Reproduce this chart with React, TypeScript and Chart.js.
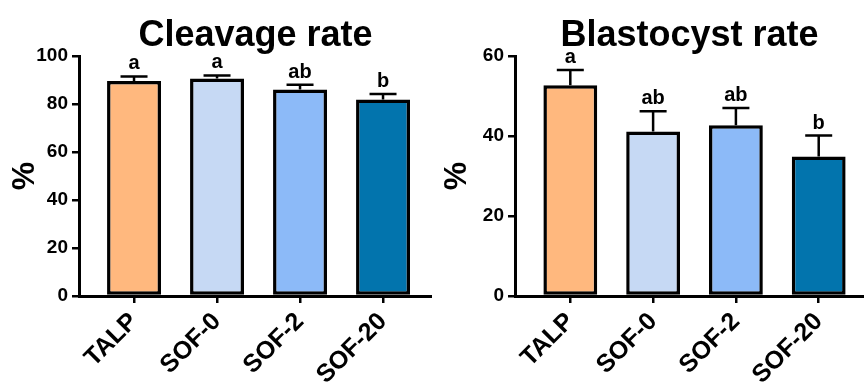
import React, { useEffect, useRef } from "react";
import { Chart, registerables } from "chart.js";

Chart.register(...registerables);

const FONT = "'Liberation Sans', Arial, Helvetica, sans-serif";

const categories = ["TALP", "SOF-0", "SOF-2", "SOF-20"];
const barColors = ["#FFB87E", "#C6D9F4", "#8CBAF8", "#0274AD"];

const cleavageMean = [89.6, 90.6, 86.0, 81.9];
const cleavageSem = [1.9, 1.3, 2.0, 2.3];
const cleavageLetters = ["a", "a", "ab", "b"];
const cleavageTicks = [0, 20, 40, 60, 80, 100];

const blastMean = [52.7, 41.1, 42.7, 34.9];
const blastSem = [3.8, 5.1, 4.3, 5.2];
const blastLetters = ["a", "ab", "ab", "b"];
const blastTicks = [0, 20, 40, 60];

const errLetterPlugin = {
  id: "errLetters",
  afterDatasetsDraw(chart: any, _args: any, opts: any) {
    const { ctx } = chart;
    const x = chart.scales.x;
    const y = chart.scales.y;
    const sem: number[] = opts.sem;
    const letters: string[] = opts.letters;
    const data = chart.data.datasets[0].data as { x: number; y: number }[];
    ctx.save();
    data.forEach((d, i) => {
      const px = x.getPixelForValue(d.x);
      const base = y.getPixelForValue(d.y);
      const top = y.getPixelForValue(d.y + sem[i]);
      ctx.strokeStyle = "#000";
      ctx.lineWidth = 2.5;
      ctx.beginPath();
      ctx.moveTo(px, base);
      ctx.lineTo(px, top);
      ctx.moveTo(px - 13.5, top);
      ctx.lineTo(px + 13.5, top);
      ctx.stroke();
      ctx.fillStyle = "#000";
      ctx.font = `bold 20px ${FONT}`;
      ctx.textAlign = "center";
      ctx.textBaseline = "alphabetic";
      ctx.fillText(letters[i], px, top - 7);
    });
    ctx.restore();
  },
};

type PanelProps = {
  title: string;
  mean: number[];
  sem: number[];
  letters: string[];
  yTicks: number[];
  yWidth: number;
  xMin: number;
  xMax: number;
};

function Panel(props: PanelProps) {
  const ref = useRef<HTMLCanvasElement>(null);
  useEffect(() => {
    if (!ref.current) return;
    const { title, mean, sem, letters, yTicks, yWidth, xMin, xMax } = props;
    const chart = new Chart(ref.current, {
      type: "bar",
      data: {
        datasets: [
          {
            data: mean.map((v, i) => ({ x: i, y: v })) as any,
            backgroundColor: barColors,
            borderColor: "#000",
            borderWidth: 3.5,
            borderSkipped: false,
            categoryPercentage: 1,
            barPercentage: 0.65,
          },
        ],
      },
      options: {
        animation: false,
        responsive: false,
        layout: { padding: 0 },
        plugins: {
          legend: { display: false },
          tooltip: { enabled: false },
          title: {
            display: true,
            text: title,
            fullSize: false,
            color: "#000",
            font: { size: 36, weight: "bold", family: FONT, lineHeight: 1.1 },
            padding: { top: 16, bottom: 0.4 },
          },
          errLetters: { sem, letters },
        } as any,
        scales: {
          x: {
            type: "linear",
            offset: false,
            min: xMin,
            max: xMax,
            afterBuildTicks: (s: any) => {
              s.ticks = categories.map((_, i) => ({ value: i }));
            },
            afterFit: (s: any) => {
              s.height = 96;
            },
            ticks: {
              autoSkip: false,
              minRotation: 45,
              maxRotation: 45,
              padding: 4,
              color: "#000",
              font: { size: 25, weight: "bold", family: FONT },
              callback: (v: any) => categories[Math.round(Number(v))],
            },
            grid: {
              offset: false,
              drawOnChartArea: false,
              drawTicks: true,
              tickLength: 7,
              color: "#000",
              lineWidth: 2.5,
            },
            border: { display: true, color: "#000", width: 3 },
          },
          y: {
            min: 0,
            max: yTicks[yTicks.length - 1],
            afterBuildTicks: (s: any) => {
              s.ticks = yTicks.map((v) => ({ value: v }));
            },
            afterFit: (s: any) => {
              s.width = yWidth;
            },
            ticks: {
              padding: 4,
              color: "#000",
              font: { size: 19, weight: "bold", family: FONT },
            },
            grid: {
              drawOnChartArea: false,
              drawTicks: true,
              tickLength: 7,
              color: "#000",
              lineWidth: 2.5,
            },
            border: { display: true, color: "#000", width: 3 },
            title: {
              display: true,
              text: "%",
              color: "#000",
              font: { size: 32, weight: "bold", family: FONT },
              padding: { top: 6, bottom: 0 },
            },
          },
        } as any,
      },
      plugins: [errLetterPlugin],
    });
    return () => chart.destroy();
  }, []);
  return (
    <canvas
      ref={ref}
      width={432}
      height={392}
      style={{ display: "block", width: 432, height: 392 }}
    />
  );
}

export default function App() {
  return (
    <div
      style={{
        position: "fixed",
        left: 0,
        top: 0,
        width: 864,
        height: 392,
        display: "flex",
        background: "#fff",
      }}
    >
      <Panel
        title="Cleavage rate"
        mean={cleavageMean}
        sem={cleavageSem}
        letters={cleavageLetters}
        yTicks={cleavageTicks}
        yWidth={79}
        xMin={-0.663}
        xMax={3.59}
      />
      <Panel
        title="Blastocyst rate"
        mean={blastMean}
        sem={blastSem}
        letters={blastLetters}
        yTicks={blastTicks}
        yWidth={83}
        xMin={-0.668}
        xMax={3.547}
      />
    </div>
  );
}
